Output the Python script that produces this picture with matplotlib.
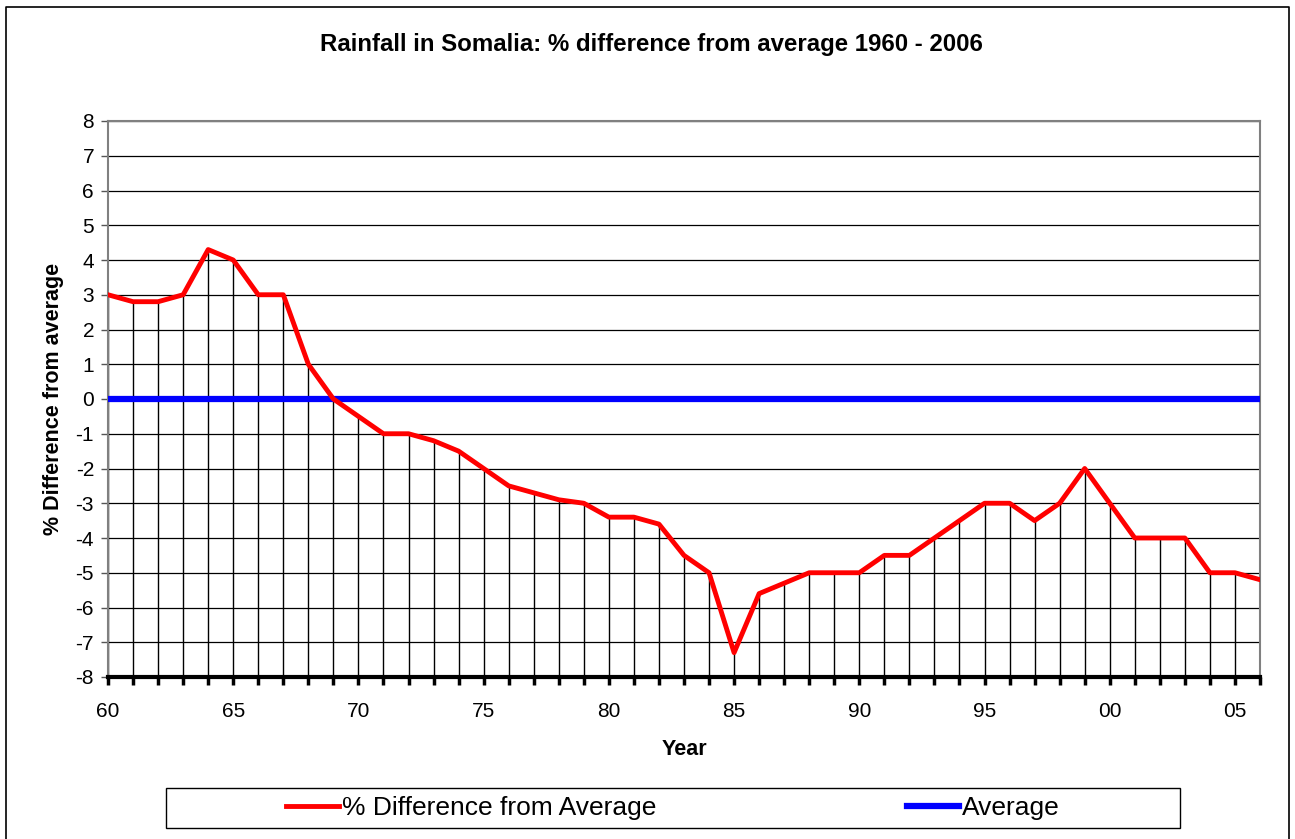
import matplotlib
matplotlib.use("Agg")
import matplotlib.pyplot as plt
from matplotlib.lines import Line2D
from matplotlib.patches import Rectangle

plt.rcParams['font.family'] = ['Liberation Sans', 'DejaVu Sans']
plt.rcParams['axes.unicode_minus'] = False

# donnees
years = list(range(1960, 2007))
diff = [3, 2.8, 2.8, 3, 4.3, 4.0, 3, 3, 1, 0,
        -0.5, -1, -1, -1.2, -1.5, -2, -2.5, -2.7, -2.9, -3.0,
        -3.4, -3.4, -3.6, -4.5, -5, -7.3, -5.6, -5.3, -5, -5,
        -5, -4.5, -4.5, -4, -3.5, -3, -3, -3.5, -3, -2,
        -3, -4, -4, -4, -5, -5, -5.2]
average = [0] * len(years)
tick_years = [1960, 1965, 1970, 1975, 1980, 1985, 1990, 1995, 2000, 2005]
tick_labels = ["60", "65", "70", "75", "80", "85", "90", "95", "00", "05"]

fig = plt.figure(figsize=(12.95, 8.39), dpi=100)
ax = fig.add_axes([108/1295, 1-677/839, (1260-108)/1295, (677-121)/839])

ax.set_xlim(1960, 2006)
ax.set_ylim(-8, 8)
ax.set_yticks(range(-8, 9))
for y in range(-7, 9):
    ax.axhline(y, color="black", lw=0.9, zorder=1)

# lignes de rappel verticales
ax.vlines(years, -8, diff, colors="black", lw=1, zorder=2)
ax.plot(years, average, color="#0000ff", lw=4.5, zorder=3, solid_capstyle="butt")
ax.plot(years, diff, color="#ff0000", lw=3.5, zorder=4)

ax.set_xticks(years, minor=True)
ax.set_xticks(tick_years)
ax.set_xticklabels(tick_labels)
ax.tick_params(axis="x", which="both", direction="out", length=6, width=2.5, color="black", labelsize=15, pad=12)
ax.tick_params(axis="y", direction="out", length=5, width=1, color="#555555", labelsize=15, pad=5)

for s in ["left", "top", "right"]:
    ax.spines[s].set_color("#808080")
    ax.spines[s].set_linewidth(1.5)
ax.spines["bottom"].set_color("black")
ax.spines["bottom"].set_linewidth(3)

ax.set_xlabel("Year", fontsize=15.5, fontweight="bold", labelpad=13)
ax.set_ylabel("% Difference from average", fontsize=15.5, fontweight="bold", labelpad=8)
fig.text(0.503, 1-45/839, "Rainfall in Somalia: % difference from average 1960 - 2006",
         ha="center", va="center", fontsize=17.3, fontweight="bold")

# cadre exterieur
fig.add_artist(Line2D([6/1295, 6/1295, 1289/1295, 1289/1295], [0, 1-7/839, 1-7/839, 0],
                      color="black", lw=1.2))
fig.add_artist(Rectangle((166/1295, 1-828/839), (1180-166)/1295, 40/839,
                         fill=False, edgecolor="black", lw=1))

h1 = Line2D([], [], color="#ff0000", lw=3.5)
h2 = Line2D([], [], color="#0000ff", lw=4.5)
fig.legend([h1, h2], ["% Difference from Average", "Average"], loc="center",
           bbox_to_anchor=(673/1295, 1-808/839), ncol=2, frameon=False,
           fontsize=19, handlelength=2.0, handletextpad=0.1, columnspacing=9.5)

fig.savefig("out.png", dpi=100)
